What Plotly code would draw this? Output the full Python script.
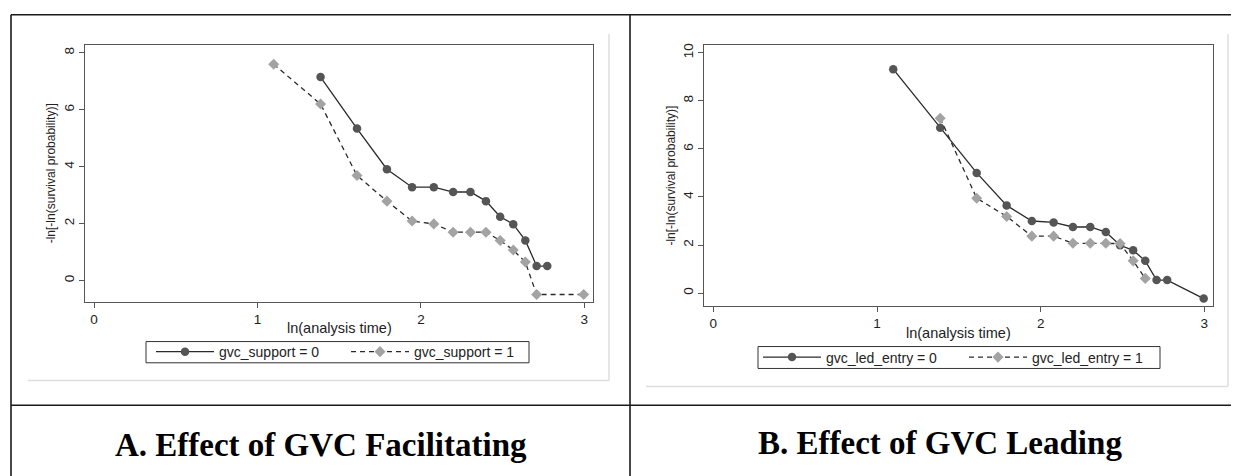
import plotly.graph_objects as go

# ---------------- data ----------------
# x = ln(analysis time)
x_a0 = [1.386, 1.609, 1.792, 1.946, 2.079, 2.197, 2.303, 2.398, 2.485, 2.565, 2.639, 2.708, 2.773]
y_a0 = [7.15, 5.34, 3.91, 3.28, 3.28, 3.11, 3.11, 2.79, 2.24, 1.98, 1.41, 0.51, 0.51]
x_a1 = [1.099, 1.386, 1.609, 1.792, 1.946, 2.079, 2.197, 2.303, 2.398, 2.485, 2.565, 2.639, 2.708, 2.996]
y_a1 = [7.60, 6.20, 3.69, 2.79, 2.09, 1.99, 1.70, 1.70, 1.70, 1.41, 1.07, 0.65, -0.49, -0.49]

x_b0 = [1.099, 1.386, 1.609, 1.792, 1.946, 2.079, 2.197, 2.303, 2.398, 2.485, 2.565, 2.639, 2.708, 2.773, 2.996]
y_b0 = [9.32, 6.88, 5.00, 3.65, 3.00, 2.94, 2.75, 2.75, 2.54, 1.99, 1.78, 1.34, 0.54, 0.54, -0.23]
x_b1 = [1.386, 1.609, 1.792, 1.946, 2.079, 2.197, 2.303, 2.398, 2.485, 2.565, 2.639]
y_b1 = [7.28, 3.95, 3.19, 2.37, 2.37, 2.07, 2.07, 2.07, 2.06, 1.34, 0.61]

names_a = ["gvc_support = 0", "gvc_support = 1"]
names_b = ["gvc_led_entry = 0", "gvc_led_entry = 1"]
panel_titles = ["A. Effect of GVC Facilitating", "B. Effect of GVC Leading"]
x_title = "ln(analysis time)"
y_title = "-ln[-ln(survival probability)]"
x_ticks = [0, 1, 2, 3]
y_ticks_a = [0, 2, 4, 6, 8]
y_ticks_b = [0, 2, 4, 6, 8, 10]

# ---------------- layout helpers ----------------
W, H = 1239, 476
OFF = 8                      # browser default body margin
FW, FH = W - OFF, H - OFF    # figure size so that it fills the window
def px(x):
    return (x - OFF) / FW
def py(y):
    return 1 - (y - OFF) / FH

SANS = "Liberation Sans, Arial, sans-serif"
SERIF = "Liberation Serif, Times New Roman, serif"
DARK = "#555555"
LIGHT = "#a3a3a3"
LINEC = "#2a2a2a"
TXT = "#222222"

fig = go.Figure()

def add_pair(x0, y0, x1, y1, names, xa, ya, leg):
    fig.add_trace(go.Scatter(
        x=x0, y=y0, name=names[0], mode="lines+markers",
        line=dict(color=LINEC, width=1.3),
        marker=dict(symbol="circle", size=8.5, color=DARK),
        xaxis=xa, yaxis=ya, legend=leg))
    fig.add_trace(go.Scatter(
        x=x1, y=y1, name=names[1], mode="lines+markers",
        line=dict(color=LINEC, width=1.3, dash="5px,4px"),
        marker=dict(symbol="diamond", size=8.5, color=LIGHT),
        xaxis=xa, yaxis=ya, legend=leg))

add_pair(x_a0, y_a0, x_a1, y_a1, names_a, "x", "y", "legend")
add_pair(x_b0, y_b0, x_b1, y_b1, names_b, "x2", "y2", "legend2")

axis_common = dict(
    showline=True, mirror=True, linecolor="#555555", linewidth=1.2,
    ticks="outside", ticklen=5, tickwidth=1, tickcolor="#555555",
    showgrid=False, zeroline=False,
    tickfont=dict(family=SANS, size=13.5, color=TXT),
)

leg_common = dict(orientation="h", xanchor="left", yanchor="middle",
                  borderwidth=0, bgcolor="rgba(0,0,0,0)", itemwidth=58,
                  font=dict(family=SANS, size=14, color=TXT))

fig.update_layout(
    width=FW, height=FH,
    margin=dict(l=0, r=0, t=0, b=0),
    paper_bgcolor="white", plot_bgcolor="white",
    xaxis=dict(domain=[px(85.4), px(593)], range=[-0.053, 3.053],
               tickvals=x_ticks, anchor="y", **axis_common),
    yaxis=dict(domain=[py(301), py(43.3)], range=[-0.745, 8.27],
               tickvals=y_ticks_a, tickangle=-90, anchor="x", **axis_common),
    xaxis2=dict(domain=[px(704.2), px(1212.7)], range=[-0.056, 3.051],
                tickvals=x_ticks, anchor="y2", **axis_common),
    yaxis2=dict(domain=[py(305.3), py(43.3)], range=[-0.54, 10.32],
                tickvals=y_ticks_b, tickangle=-90, anchor="x2", **axis_common),
    legend=dict(x=px(151), y=py(351.5), entrywidth=122, **leg_common),
    legend2=dict(x=px(758), y=py(357), entrywidth=133, **leg_common),
    showlegend=True,
)

def ann(text, x, y, size, family=SANS, angle=0, color=TXT):
    return dict(text=text, x=px(x), y=py(y), xref="paper", yref="paper",
                showarrow=False, xanchor="center", yanchor="middle",
                textangle=angle, font=dict(family=family, size=size, color=color))

annotations = [
    ann(x_title, 339.2, 327, 14.5),
    ann(x_title, 958.5, 332, 14.5),
    ann(y_title, 51, 172, 12, angle=-90),
    ann(y_title, 671, 174.3, 12, angle=-90),
    ann("<b>" + panel_titles[0] + "</b>", 321, 445, 33, family=SERIF, color="black"),
    ann("<b>" + panel_titles[1] + "</b>", 940.5, 443, 33, family=SERIF, color="black"),
]
fig.update_layout(annotations=annotations)

shapes = []
def line(x0, y0, x1, y1, color, width):
    shapes.append(dict(type="line", xref="paper", yref="paper",
                       x0=px(x0), y0=py(y0), x1=px(x1), y1=py(y1),
                       line=dict(color=color, width=width), layer="below"))
def rect(x0, y0, x1, y1, color, width):
    shapes.append(dict(type="rect", xref="paper", yref="paper",
                       x0=px(x0), y0=py(y0), x1=px(x1), y1=py(y1),
                       line=dict(color=color, width=width), layer="below"))

# table frame
line(11, 12.7, W + 4, 12.7, "#1a1a1a", 1.6)
line(11, 12.7, 11, H + 4, "#1a1a1a", 1.6)
line(630, 12.7, 630, H + 4, "#1a1a1a", 1.6)
line(11, 405, W + 4, 405, "#1a1a1a", 1.6)
# faint graph-region edges
line(609, 32, 609, 380, "#dedede", 1.5)
line(28, 380, 609, 380, "#dedede", 1.5)
line(1228, 32, 1228, 386, "#dedede", 1.5)
line(646, 386, 1228, 386, "#dedede", 1.5)
# legend frames
rect(146, 341, 529, 362.3, "#333333", 1)
rect(758, 346, 1160, 368, "#333333", 1)
fig.update_layout(shapes=shapes)

fig.write_html("out.html")
